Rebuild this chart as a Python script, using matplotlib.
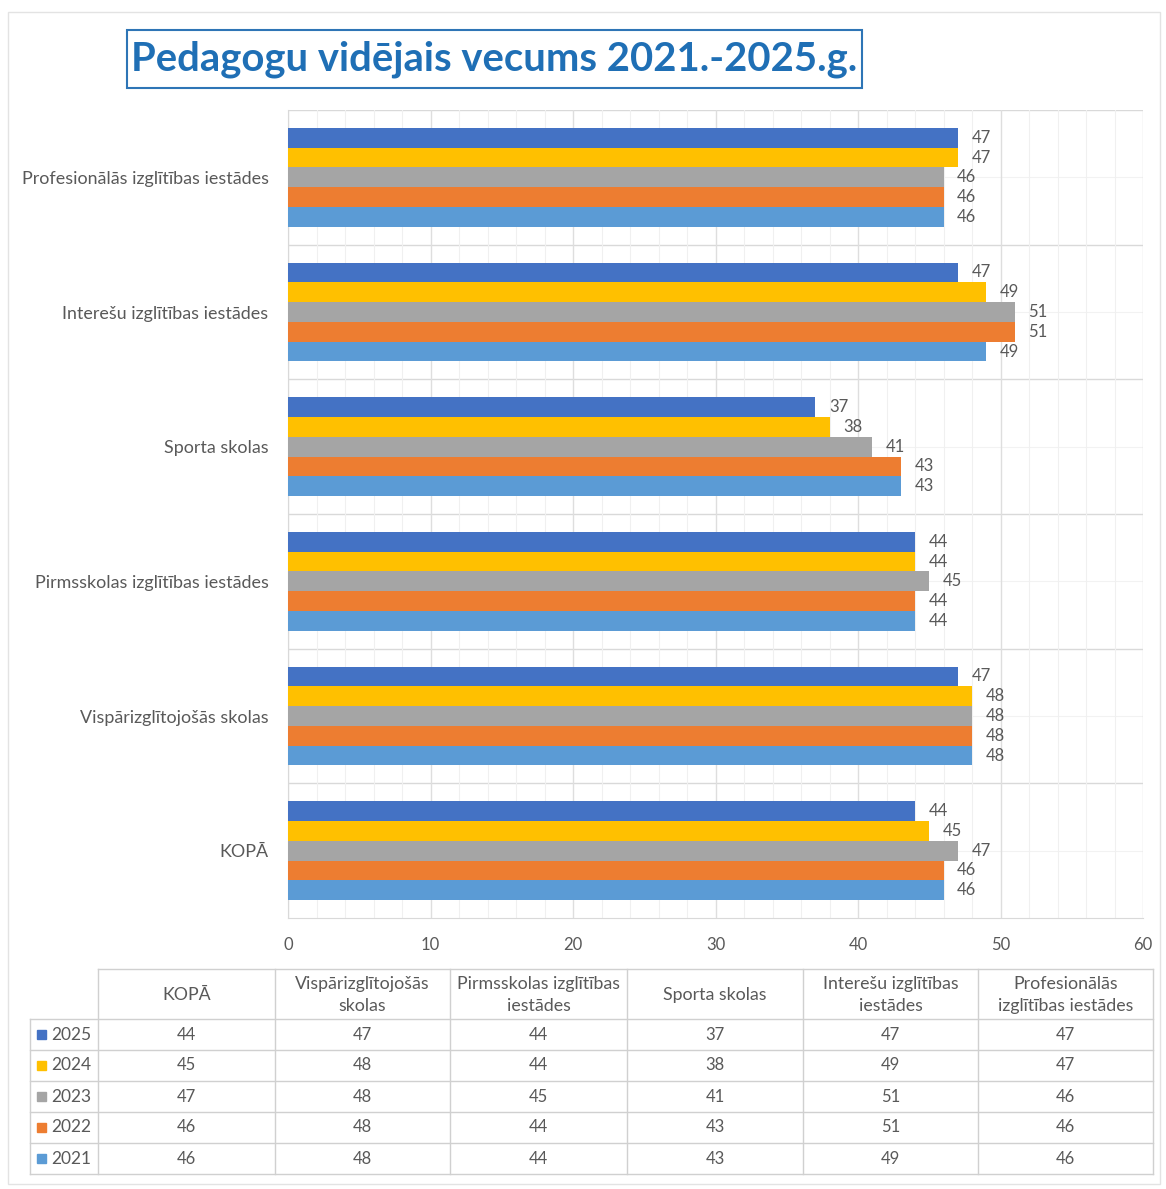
import matplotlib
matplotlib.use("Agg")
import matplotlib.pyplot as plt
from matplotlib.patches import Rectangle
from matplotlib.ticker import MultipleLocator

plt.rcParams['font.family'] = ['Lato', 'DejaVu Sans']

# data
categories = ["KOPĀ", "Vispārizglītojošās skolas", "Pirmsskolas izglītības iestādes",
              "Sporta skolas", "Interešu izglītības iestādes",
              "Profesionālās izglītības iestādes"]
table_headers = ["KOPĀ", "Vispārizglītojošās\nskolas", "Pirmsskolas izglītības\niestādes",
                 "Sporta skolas", "Interešu izglītības\niestādes",
                 "Profesionālās\nizglītības iestādes"]
years = ["2025", "2024", "2023", "2022", "2021"]
v2025 = [44, 47, 44, 37, 47, 47]
v2024 = [45, 48, 44, 38, 49, 47]
v2023 = [47, 48, 45, 41, 51, 46]
v2022 = [46, 48, 44, 43, 51, 46]
v2021 = [46, 48, 44, 43, 49, 46]
series = [v2025, v2024, v2023, v2022, v2021]
colors = ["#4472C4", "#FFC000", "#A5A5A5", "#ED7D31", "#5B9BD5"]

W, H = 1166, 1189
fig = plt.figure(figsize=(W / 100, H / 100), dpi=100)
txt = "#595959"
grid = "#D9D9D9"


def fx(px):
    return px / W


def fy(py):
    return 1 - py / H


# bar chart
ax = fig.add_axes([fx(288), fy(918), fx(1143) - fx(288), fy(110) - fy(918)])
h = 0.147
offsets = [2 * h, h, 0, -h, -2 * h]
ys = list(range(len(categories)))
for vals, off, c in zip(series, offsets, colors):
    pos = [y + off for y in ys]
    ax.barh(pos, vals, height=h, color=c, zorder=3)
    for p, v in zip(pos, vals):
        ax.text(v + 0.95, p, str(v), va="center", ha="left", fontsize=12, color=txt, zorder=4)

ax.set_xlim(0, 60)
ax.set_ylim(-0.5, len(categories) - 0.5)
ax.xaxis.set_major_locator(MultipleLocator(10))
ax.xaxis.set_minor_locator(MultipleLocator(2))
ax.grid(axis="x", which="major", color="#DEDEDE", lw=1, zorder=0)
ax.grid(axis="x", which="minor", color="#F0F0F0", lw=0.8, zorder=0)
for b in [y + 0.5 for y in ys]:
    ax.axhline(b, color=grid, lw=1, zorder=1)
for y in ys:
    ax.axhline(y, color="#F2F2F2", lw=0.8, zorder=0)
ax.set_yticks(ys)
ax.set_yticklabels(categories, fontsize=12.9, color=txt)
ax.tick_params(axis="y", length=0, pad=14)
ax.tick_params(axis="x", which="both", length=0, labelsize=12, labelcolor=txt, pad=14)
for s in ["top", "right"]:
    ax.spines[s].set_visible(False)
ax.spines["left"].set_color(grid)
ax.spines["bottom"].set_color(grid)

# overlay for title, table, frame (pixel coordinates)
ov = fig.add_axes([0, 0, 1, 1])
ov.set_xlim(0, W)
ov.set_ylim(H, 0)
ov.axis("off")
ov.add_patch(Rectangle((8, 12), 1152, 1172, fill=False, ec="#E3E3E3", lw=1))

ov.add_patch(Rectangle((127, 30), 735, 58, fill=False, ec="#2E75B6", lw=1.5))
ov.text(494, 59, "Pedagogu vidējais vecums 2021.-2025.g.", ha="center", va="center",
        fontsize=28.8, fontweight="bold", color="#1F6FB5")

# data table
col_x = [98, 275, 450, 627, 803, 978, 1153]
row_y = [969, 1019, 1050, 1081, 1112, 1143, 1174]
lc = "#D0D0D0"
ov.plot([col_x[0], col_x[-1]], [row_y[0]] * 2, color=lc, lw=1)
for yy in row_y[1:]:
    ov.plot([30, col_x[-1]], [yy] * 2, color=lc, lw=1)
for xx in col_x:
    ov.plot([xx] * 2, [row_y[0], row_y[-1]], color=lc, lw=1)
ov.plot([30, 30], [row_y[1], row_y[-1]], color=lc, lw=1)

for j, hd in enumerate(table_headers):
    ov.text((col_x[j] + col_x[j + 1]) / 2, (row_y[0] + row_y[1]) / 2 + 1, hd,
            ha="center", va="center", fontsize=12.8, color=txt, linespacing=1.45)
for i, (yr, vals, c) in enumerate(zip(years, series, colors)):
    yc = (row_y[i + 1] + row_y[i + 2]) / 2
    ov.add_patch(Rectangle((37, yc - 4.5), 9, 9, color=c))
    ov.text(51, yc, yr, ha="left", va="center", fontsize=12.5, color=txt)
    for j, v in enumerate(vals):
        ov.text((col_x[j] + col_x[j + 1]) / 2, yc, str(v), ha="center", va="center",
                fontsize=12, color=txt)

fig.savefig("out.png", dpi=100, facecolor="white")
